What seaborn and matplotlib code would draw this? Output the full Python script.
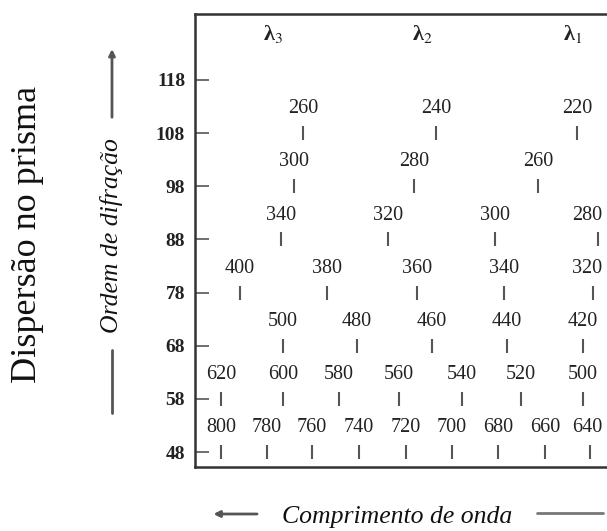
import numpy as np
import pandas as pd
import matplotlib
matplotlib.use('Agg')
import matplotlib.pyplot as plt
import seaborn as sns

# diffraction orders and the wavelengths (nm) marked in each, with their read-off positions
orders = [108, 98, 88, 78, 68, 58, 48]
wavelengths = [
    [260, 240, 220],
    [300, 280, 260],
    [340, 320, 300, 280],
    [400, 380, 360, 340, 320],
    [500, 480, 460, 440, 420],
    [620, 600, 580, 560, 540, 520, 500],
    [800, 780, 760, 740, 720, 700, 680, 660, 640],
]
positions = [
    [108, 241, 382],
    [99, 219, 343],
    [86, 193, 300, 403],
    [45, 132, 222, 309, 398],
    [88, 162, 237, 312, 388],
    [26, 88, 144, 204, 267, 326, 388],
    [26, 72, 117, 164, 211, 257, 303, 350, 395],
]
column_labels = ['λ$_3$', 'λ$_2$', 'λ$_1$']
column_pos = [78, 227, 378]
yticks = [118, 108, 98, 88, 78, 68, 58, 48]

rows = []
for o, wl, ps in zip(orders, wavelengths, positions):
    for w, p in zip(wl, ps):
        rows.append({'order': o, 'wavelength': w, 'pos': p})
df = pd.DataFrame(rows)

sns.set_style('white')
plt.rcParams['font.family'] = ['Liberation Serif', 'DejaVu Serif']
plt.rcParams['mathtext.fontset'] = 'stix'

fig = plt.figure(figsize=(6.07, 5.31), dpi=100)
ax = fig.add_axes([0.321, 0.1205, 0.679, 0.853])

sns.scatterplot(data=df, x='pos', y='order', marker='|', s=100, color='#555555',
                linewidth=1.5, ax=ax, legend=False)
for _, r in df.iterrows():
    # keep labels at the right edge inside the frame
    ax.text(min(r['pos'], 392), r['order'] + 4.6, str(r['wavelength']), ha='center',
            va='center', fontsize=14.5, color='#222222')
for lab, p in zip(column_labels, column_pos):
    ax.text(p, 126.6, lab, ha='center', va='center', fontsize=16, fontweight='bold',
            color='#222222')

ax.set_xlim(0, 412)
ax.set_ylim(45.2, 130.4)
ax.set_xticks([])
ax.set_yticks(yticks)
ax.set_yticklabels([str(t) for t in yticks], fontsize=14, fontweight='bold', color='#222222')
ax.tick_params(axis='y', direction='in', length=10, width=1.2, color='#555555', pad=7, left=True)
ax.set_xlabel('')
ax.set_ylabel('')
for side in ['left', 'top', 'bottom']:
    ax.spines[side].set_color('#333333')
    ax.spines[side].set_linewidth(1.8)
ax.spines['right'].set_visible(False)

# side annotations
fig.text(0.046, 0.558, 'Dispersão no prisma', rotation=90, ha='center', va='center',
         fontsize=26, color='#111111')
fig.text(0.1845, 0.557, 'Ordem de difração', rotation=90, ha='center', va='center',
         fontsize=18.5, style='italic', color='#111111')
fig.add_artist(plt.Line2D([0.1845, 0.1845], [0.222, 0.341], color='#555555', lw=2))
ax.annotate('', xy=(0.1845, 0.913), xytext=(0.1845, 0.774), xycoords='figure fraction',
            arrowprops=dict(arrowstyle='-|>', color='#555555', lw=2, mutation_scale=9))

fig.text(0.655, 0.026, 'Comprimento de onda', ha='center', va='center',
         fontsize=18.5, style='italic', color='#111111')
ax.annotate('', xy=(0.347, 0.032), xytext=(0.428, 0.032), xycoords='figure fraction',
            arrowprops=dict(arrowstyle='-|>', color='#555555', lw=2, mutation_scale=9))
fig.add_artist(plt.Line2D([0.885, 0.993], [0.034, 0.034], color='#777777', lw=2))

fig.savefig('out.png', dpi=100)
